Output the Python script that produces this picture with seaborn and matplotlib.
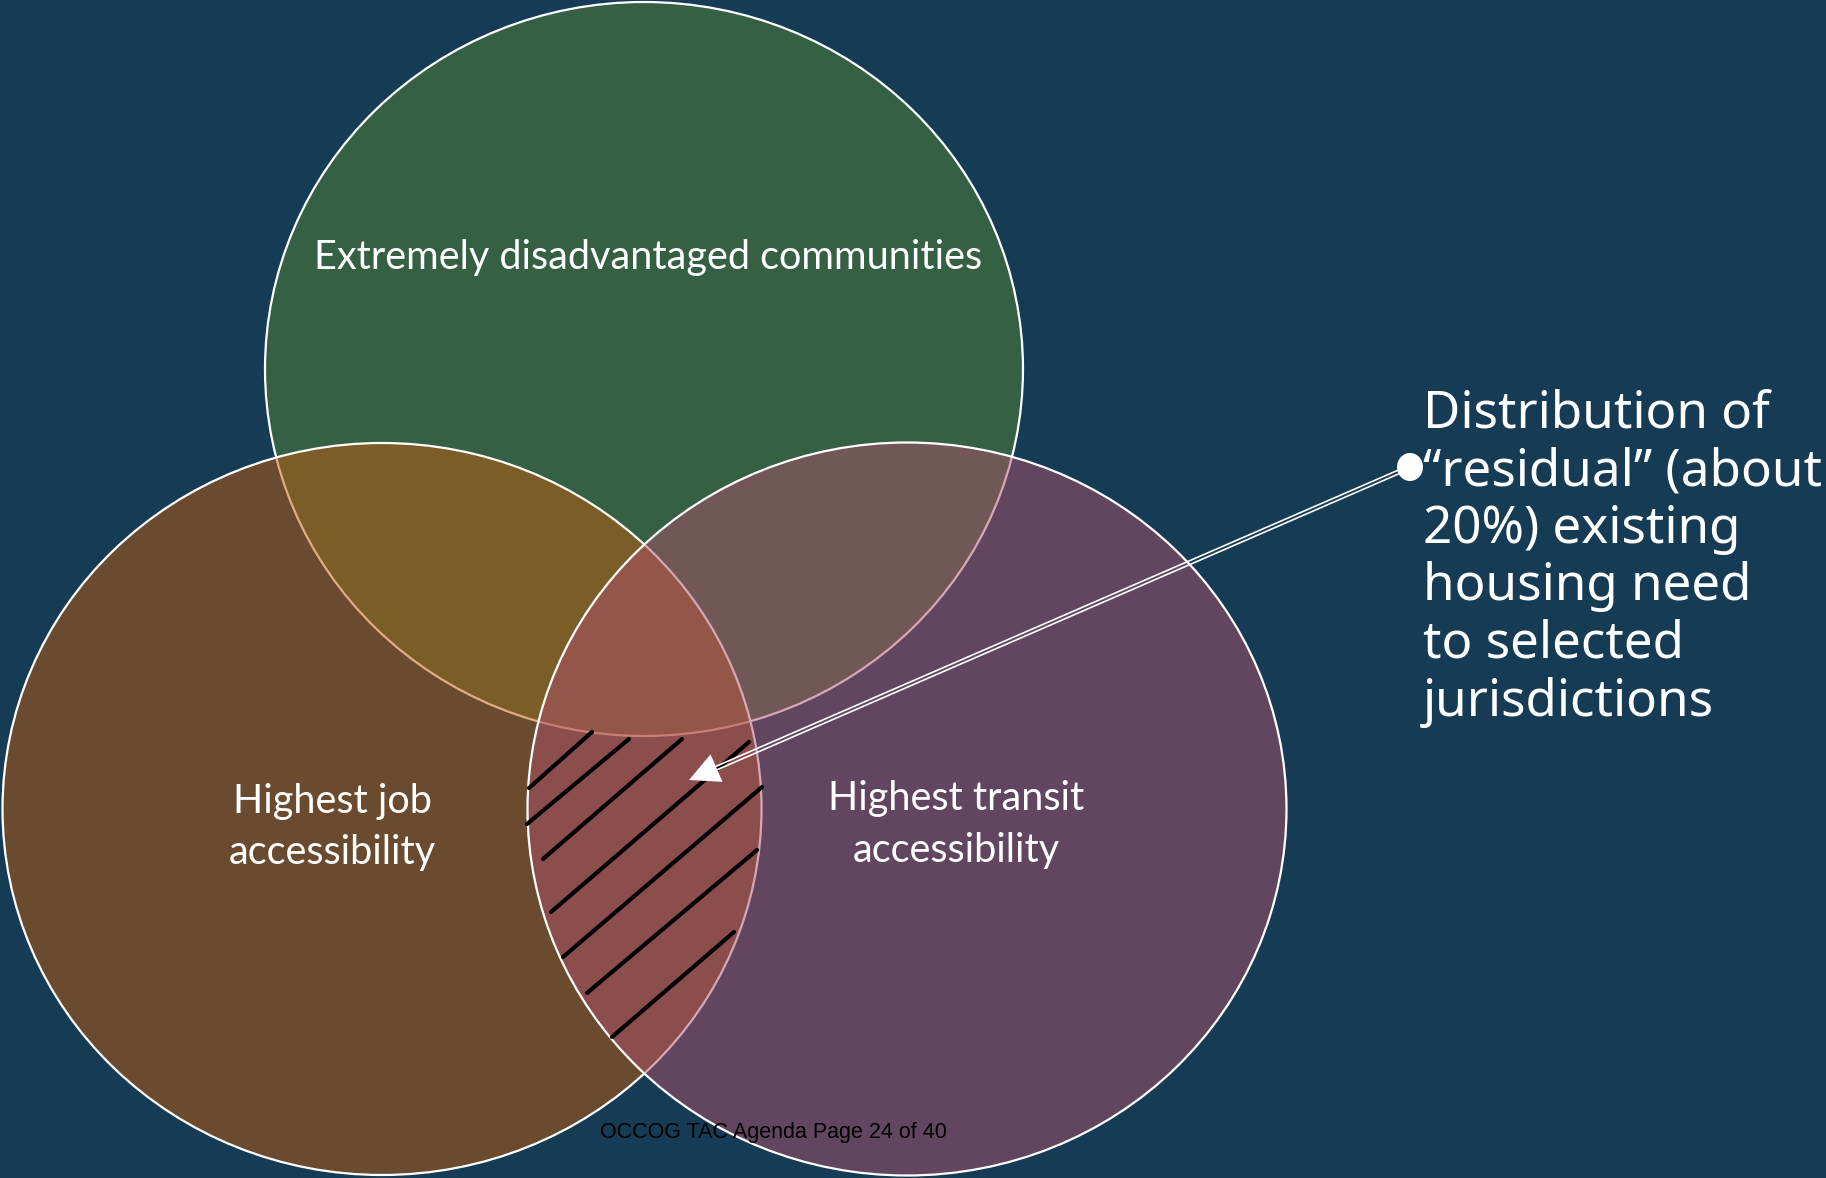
import numpy as np
import pandas as pd
import seaborn as sns
import matplotlib.pyplot as plt
from matplotlib.patches import Ellipse, Polygon

# Setup
sns.set_theme(style="white")
plt.rcParams['font.family'] = ['Lato', 'DejaVu Sans']

W, H = 1826, 1178
BG = "#163B55"

# Venn sets (pixel space of the slide)
set_names = ["Extremely disadvantaged communities", "Highest job accessibility", "Highest transit accessibility"]
set_colors = ["#548535", "#C05B0B", "#AE516B"]
set_cx = [644, 382, 907]
set_cy = [369, 809, 809]
set_w = [758, 759, 759]
set_h = [734, 732, 733]

# hand-drawn hatch strokes in the job/transit overlap
hatch_x0 = [529, 527, 543, 551, 563, 587, 612]
hatch_y0 = [788, 824, 859, 912, 957, 993, 1037]
hatch_x1 = [592, 629, 682, 749, 762, 757, 734]
hatch_y1 = [732, 739, 739, 742, 787, 850, 932]

# callout arrow
arrow_start = (1410, 467)
arrow_tip = (689, 780)

callout_lines = ["Distribution of", "\u201cresidual\u201d (about", "20%) existing",
                 "housing need", "to selected", "jurisdictions"]

fig = plt.figure(figsize=(W / 100, H / 100), dpi=100)
fig.patch.set_facecolor(BG)
ax = fig.add_axes([0, 0, 1, 1])
ax.set_facecolor(BG)

for c, x, y, w, h in zip(set_colors, set_cx, set_cy, set_w, set_h):
    rgba = list(plt.matplotlib.colors.to_rgba(c))
    rgba[3] = 0.5
    ax.add_patch(Ellipse((x, y), w, h, facecolor=rgba, edgecolor="white", lw=1.6, zorder=2))

# hatch strokes
seg = pd.DataFrame({
    "x": [v for pair in zip(hatch_x0, hatch_x1) for v in pair],
    "y": [v for pair in zip(hatch_y0, hatch_y1) for v in pair],
    "stroke": np.repeat(np.arange(len(hatch_x0)), 2),
})
sns.lineplot(data=seg, x="x", y="y", units="stroke", estimator=None, sort=False,
             color="black", lw=3.0, ax=ax, zorder=4, legend=False)
ax.set_xlim(0, W)
ax.set_ylim(H, 0)
ax.axis("off")

# arrow: double white line + triangle head + dot
sx, sy = arrow_start
tx, ty = arrow_tip
d = np.array([tx - sx, ty - sy], float)
u = d / np.hypot(*d)
n = np.array([-u[1], u[0]])
head_len, head_w = 30, 30
base = np.array([tx, ty]) - u * head_len
for off in (-1.8, 1.8):
    p0 = np.array([sx, sy]) + n * off
    p1 = base + n * off
    ax.plot([p0[0], p1[0]], [p0[1], p1[1]], color="white", lw=1.2, zorder=5,
            solid_capstyle="butt")
ax.add_patch(Polygon([(tx, ty), base + n * head_w / 2, base - n * head_w / 2],
                     closed=True, facecolor="white", edgecolor="none", zorder=5))
ax.add_patch(Ellipse((sx, sy), 26, 28, facecolor="white", edgecolor="none", zorder=5))

# labels
fs = 28.5
ax.text(648, 269, set_names[0], color="white", fontsize=fs, ha="center", va="baseline", zorder=6)
ax.text(332, 813, "Highest job", color="white", fontsize=fs, ha="center", va="baseline", zorder=6)
ax.text(332, 864, "accessibility", color="white", fontsize=fs, ha="center", va="baseline", zorder=6)
ax.text(956, 810, "Highest transit", color="white", fontsize=fs, ha="center", va="baseline", zorder=6)
ax.text(956, 862, "accessibility", color="white", fontsize=fs, ha="center", va="baseline", zorder=6)

for i, line in enumerate(callout_lines):
    ax.text(1423, 428 + 57.5 * i, line, color="white", fontsize=36.8, ha="left", va="baseline",
            family=["Noto Sans", "DejaVu Sans"], zorder=6)

ax.text(773, 1138, "OCCOG TAC Agenda Page 24 of 40", color="black", fontsize=15.5,
        ha="center", va="baseline", family=["Liberation Sans", "DejaVu Sans"], zorder=6)

fig.savefig("out.png", dpi=100, facecolor=BG)
